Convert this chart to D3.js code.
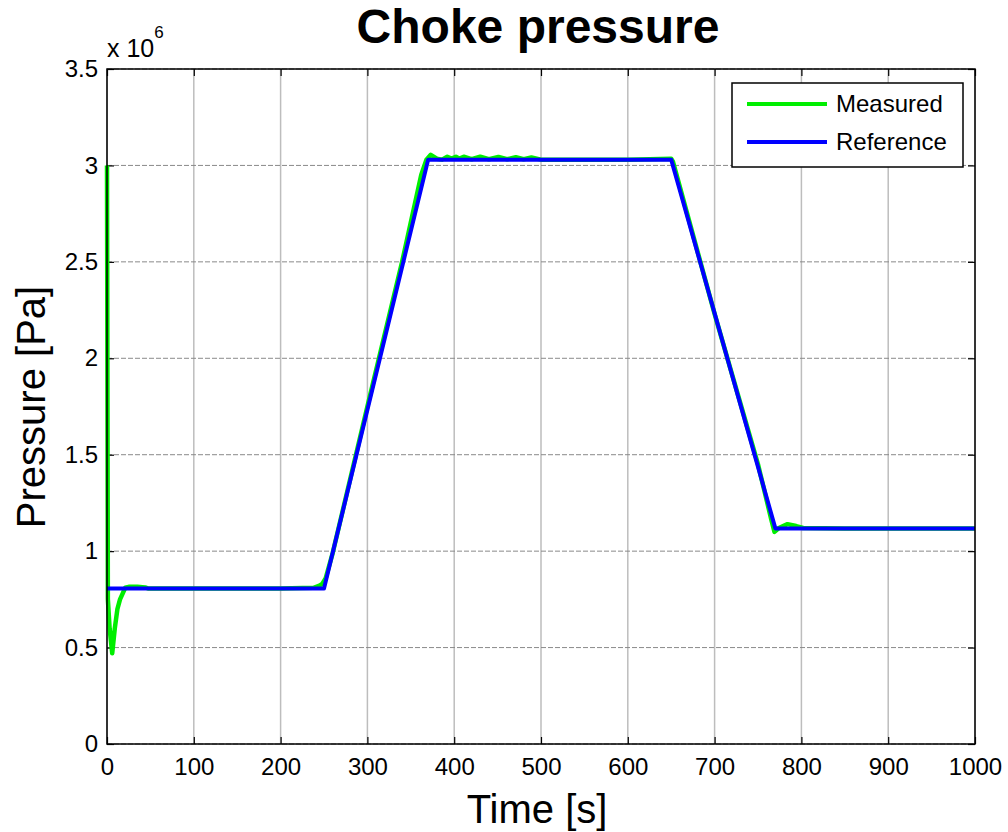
<!DOCTYPE html>
<html>
<head>
<meta charset="utf-8">
<script src="https://cdn.jsdelivr.net/npm/d3@7"></script>
<style>
  body { margin: 0; background: #fff; }
  svg { display: block; }
  text { font-family: "Liberation Sans", Arial, sans-serif; }
</style>
</head>
<body>
<svg id="vis"></svg>
<script>
// values (pressure in units of 1e6 Pa)
const refTime = [0, 250, 370, 650, 770, 1000];
const refPressure = [0.806, 0.806, 3.03, 3.03, 1.118, 1.118];

const measTime = [0, 1, 3, 6, 9, 12, 15, 18, 21, 25, 35, 44, 48, 100, 200, 238, 244, 248, 252, 260, 300, 340, 362, 368,
  373, 380, 386, 392, 397, 402, 406, 411, 420, 430, 440, 451, 461, 471, 480, 489, 500, 600, 650, 652, 700, 750, 765,
  769, 774, 784, 794, 802, 850, 1000];
const measPressure = [3.0, 0.75, 0.6, 0.47, 0.6, 0.7, 0.75, 0.78, 0.81, 0.815, 0.815, 0.812, 0.806, 0.806, 0.806, 0.81,
  0.82, 0.83, 0.86, 0.99, 1.75, 2.5, 2.95, 3.03, 3.055, 3.035, 3.03, 3.045, 3.035, 3.045, 3.035, 3.045, 3.032, 3.045,
  3.032, 3.044, 3.032, 3.043, 3.032, 3.041, 3.03, 3.03, 3.035, 3.02, 2.23, 1.45, 1.17, 1.10, 1.12, 1.14, 1.13, 1.12,
  1.118, 1.118];

const xTicks = [0, 100, 200, 300, 400, 500, 600, 700, 800, 900, 1000];
const yTicks = [0, 0.5, 1, 1.5, 2, 2.5, 3, 3.5];

const seriesNames = ["Measured", "Reference"];
const seriesColors = ["#00ee00", "#0000ff"];

const width = 1008, height = 832;
const plot = {left: 107, right: 975, top: 69, bottom: 744};

const svg = d3.select("#vis").attr("width", width).attr("height", height);
svg.append("rect").attr("width", width).attr("height", height).attr("fill", "#fff");

const x = d3.scaleLinear().domain([0, 1000]).range([plot.left, plot.right]);
const y = d3.scaleLinear().domain([0, 3.5]).range([plot.bottom, plot.top]);

// grid
svg.append("g").selectAll("line").data(xTicks).enter().append("line")
  .attr("x1", d => x(d)).attr("x2", d => x(d))
  .attr("y1", plot.top).attr("y2", plot.bottom)
  .attr("stroke", "#bdbdbd").attr("stroke-width", 1.5);
svg.append("g").selectAll("line").data(yTicks).enter().append("line")
  .attr("x1", plot.left).attr("x2", plot.right)
  .attr("y1", d => y(d)).attr("y2", d => y(d))
  .attr("stroke", "#8a8a8a").attr("stroke-width", 1).attr("stroke-dasharray", "5,2");

// axes (MATLAB style: ticks inside, all four sides)
const fmt = d => String(d);
const axBottom = svg.append("g").attr("transform", `translate(0,${plot.bottom})`)
  .call(d3.axisBottom(x).tickValues(xTicks).tickFormat(fmt).tickSizeInner(-7).tickSizeOuter(0).tickPadding(14));
const axLeft = svg.append("g").attr("transform", `translate(${plot.left},0)`)
  .call(d3.axisLeft(y).tickValues(yTicks).tickFormat(fmt).tickSizeInner(-7).tickSizeOuter(0).tickPadding(9));
const axTop = svg.append("g").attr("transform", `translate(0,${plot.top})`)
  .call(d3.axisTop(x).tickValues(xTicks).tickFormat("").tickSizeInner(-7).tickSizeOuter(0));
const axRight = svg.append("g").attr("transform", `translate(${plot.right},0)`)
  .call(d3.axisRight(y).tickValues(yTicks).tickFormat("").tickSizeInner(-7).tickSizeOuter(0));

[axBottom, axLeft, axTop, axRight].forEach(g => {
  g.select(".domain").remove();
  g.selectAll(".tick line").attr("stroke", "#000").attr("stroke-width", 1.2);
  g.selectAll(".tick text").attr("fill", "#000").style("font-size", "24px")
    .style("font-family", "'Liberation Sans', Arial, sans-serif");
});

// data lines
const line = d3.line().x(d => x(d[0])).y(d => y(d[1]));
const measData = measTime.map((t, i) => [t, measPressure[i]]);
const refData = refTime.map((t, i) => [t, refPressure[i]]);

svg.append("path").datum(measData).attr("d", line)
  .attr("fill", "none").attr("stroke", seriesColors[0]).attr("stroke-width", 4.5).attr("stroke-linejoin", "round");
svg.append("path").datum(refData).attr("d", line)
  .attr("fill", "none").attr("stroke", seriesColors[1]).attr("stroke-width", 4).attr("stroke-linejoin", "round");

// axes box
svg.append("rect")
  .attr("x", plot.left).attr("y", plot.top)
  .attr("width", plot.right - plot.left).attr("height", plot.bottom - plot.top)
  .attr("fill", "none").attr("stroke", "#000").attr("stroke-width", 1.5);

// exponent
const expo = svg.append("text").attr("x", 107).attr("y", 57).style("font-size", "25px");
expo.append("tspan").text("x 10");
expo.append("tspan").attr("dy", -19).style("font-size", "17px").text("6");

// title and labels
svg.append("text").attr("x", 538).attr("y", 43).attr("text-anchor", "middle")
  .style("font-size", "48px").style("font-weight", "bold").text("Choke pressure");
svg.append("text").attr("x", 537).attr("y", 823).attr("text-anchor", "middle")
  .style("font-size", "40px").text("Time [s]");
svg.append("text").attr("transform", "translate(45,407) rotate(-90)").attr("text-anchor", "middle")
  .style("font-size", "40px").text("Pressure [Pa]");

// legend
const lg = svg.append("g");
lg.append("rect").attr("x", 732).attr("y", 83).attr("width", 231).attr("height", 84)
  .attr("fill", "#fff").attr("stroke", "#000").attr("stroke-width", 1.5);
seriesNames.forEach((name, i) => {
  const yy = 104 + i * 38;
  lg.append("line").attr("x1", 747).attr("x2", 827).attr("y1", yy).attr("y2", yy)
    .attr("stroke", seriesColors[i]).attr("stroke-width", 4);
  lg.append("text").attr("x", 836).attr("y", yy + 8).style("font-size", "24px").text(name);
});
</script>
</body>
</html>
